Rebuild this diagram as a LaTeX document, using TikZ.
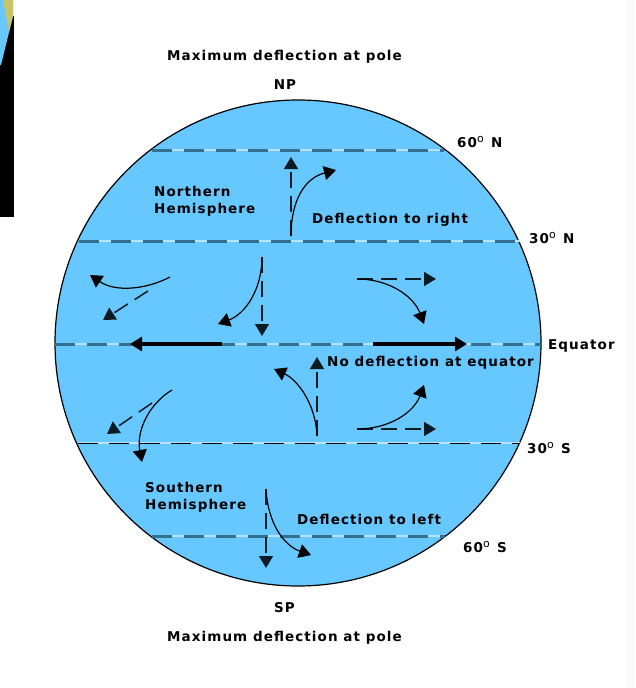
\documentclass[tikz,border=0pt]{standalone}
\usepackage{fontspec}
\setmainfont{DejaVu Sans}
\newfontfamily\lblfont[LetterSpace=8]{DejaVu Sans}
\usetikzlibrary{arrows.meta}
\definecolor{ocean}{HTML}{66C8FF}
\definecolor{latdash}{HTML}{34708F}
\definecolor{latgap}{HTML}{B4E4FF}
\definecolor{thumbland}{HTML}{C8C468}
\newcommand{\degsign}{\raisebox{5pt}{\normalfont\fontsize{11}{11}\selectfont o}\hspace{1.5pt}}
\tikzset{
  x=1pt,y=-1pt,
  lbl/.style={font=\lblfont\bfseries\fontsize{13.5}{17.5}\selectfont,inner sep=0pt,text=black,align=left},
  lat/.style={line width=1.2pt,draw=latgap},
  latd/.style={line width=3pt,draw=latdash,dash pattern=on 20pt off 12pt},
  latthin/.style={line width=1pt,draw=black,dash pattern=on 20pt off 11pt},
  tip/.style={-{Triangle[length=12pt,width=14pt]}},
  curve/.style={tip,line width=1.2pt,draw=black},
  dashline/.style={tip,line width=1.5pt,draw=black!75!latdash,dash pattern=on 16pt off 8pt},
  strong/.style={tip,line width=3.2pt,draw=black}
}
\begin{document}
\begin{tikzpicture}
\useasboundingbox (0,0) rectangle (635,688);
\fill[white] (0,0) rectangle (635,688);
\fill[black!2] (627,0) rectangle (635,688);
% thumbnail sliver
\fill[black] (0,16) rectangle (13.5,216.5);
\fill[ocean] (0,0) -- (13,0) -- (13,16) -- (1,65) -- (0,65) -- cycle;
\fill[thumbland] (3,0) -- (13,0) -- (13,16) -- (9,32) -- (6,15) -- cycle;
% globe
\node[circle,minimum size=486pt,inner sep=0pt,fill=ocean,draw=black,line width=1.2pt] (globe) at (298,343) {};
% latitude lines
\coordinate (n60a) at (152,150); \coordinate (n60b) at (444,150);
\coordinate (n30a) at (79,241);  \coordinate (n30b) at (520,241);
\coordinate (eqa) at (55,344);   \coordinate (eqb) at (541,344);
\coordinate (s30a) at (78,443);  \coordinate (s30b) at (520,443);
\coordinate (s60a) at (152,536); \coordinate (s60b) at (445,536);
\draw[lat] (n60a)--(n60b); \draw[latd] (n60a)--(n60b);
\draw[lat] (n30a)--(n30b); \draw[latd] (n30a)--(n30b);
\draw[lat] (eqa)--(eqb);   \draw[latd] (eqa)--(eqb);
\draw[lat] (s30a)--(s30b); \draw[latthin] (s30a)--(s30b);
\draw[lat] (s60a)--(s60b); \draw[latd] (s60a)--(s60b);
% coordinates of the arrows
\coordinate (a1) at (291,236); \coordinate (a1u) at (291,157); \coordinate (a1c) at (336,170);
\coordinate (a2) at (262,257); \coordinate (a2d) at (262,336); \coordinate (a2c) at (218,324);
\coordinate (a3) at (170,277); \coordinate (a3c) at (90,275);
\coordinate (a3s) at (148,291); \coordinate (a3e) at (103,320);
\coordinate (a4) at (357,279); \coordinate (a4r) at (436,279); \coordinate (a4c) at (424,324);
\coordinate (e1) at (222,344); \coordinate (e1e) at (130,344);
\coordinate (e2) at (373,344); \coordinate (e2e) at (467,344);
\coordinate (a5) at (317,436); \coordinate (a5u) at (317,357); \coordinate (a5c) at (274,369);
\coordinate (a6) at (172,390); \coordinate (a6c) at (142,462);
\coordinate (a6s) at (152,403); \coordinate (a6e) at (107,434);
\coordinate (a7) at (357,429); \coordinate (a7r) at (436,429); \coordinate (a7c) at (424,385);
\coordinate (a8) at (266,489); \coordinate (a8d) at (266,568); \coordinate (a8c) at (311,555);
% straight arrows
\draw[dashline] (a1)--(a1u);
\draw[dashline] (a2)--(a2d);
\draw[dashline] (a3s)--(a3e);
\draw[dashline] (a4)--(a4r);
\draw[strong] (e1)--(e1e);
\draw[strong] (e2)--(e2e);
\draw[dashline] (a5)--(a5u);
\draw[dashline] (a6s)--(a6e);
\draw[dashline] (a7)--(a7r);
\draw[dashline] (a8)--(a8d);
% curved arrows
\draw[curve] (a1) .. controls (291,200) and (305,178) .. (a1c);
\draw[curve] (a2) .. controls (262,290) and (245,314) .. (a2c);
\draw[curve] (a3) .. controls (145,290) and (115,292) .. (a3c);
\draw[curve] (a4) .. controls (390,279) and (414,297) .. (a4c);
\draw[curve] (a5) .. controls (316,405) and (298,380) .. (a5c);
\draw[curve] (a6) .. controls (150,403) and (136,430) .. (a6c);
\draw[curve] (a7) .. controls (390,429) and (414,412) .. (a7c);
\draw[curve] (a8) .. controls (268,525) and (285,546) .. (a8c);
% labels
\node[lbl] (top) at (284.5,56.5) {Maximum deflection at pole};
\node[lbl] (np) at (285,85) {NP};
\node[lbl,anchor=west] (n60) at (457,142) {60\degsign\ N};
\node[lbl,anchor=west] (nh) at (154,201.5) {Northern\\Hemisphere};
\node[lbl,anchor=west] (dr) at (312,220) {Deflection to right};
\node[lbl,anchor=west] (n30) at (529,238) {30\degsign\ N};
\node[lbl,anchor=west] (eq) at (548,346) {Equator};
\node[lbl,anchor=west] (nd) at (327,362.5) {No deflection at equator};
\node[lbl,anchor=west] (s30) at (527,448) {30\degsign\ S};
\node[lbl,anchor=west] (sh) at (145,497.5) {Southern\\Hemisphere};
\node[lbl,anchor=west] (dl) at (297,519) {Deflection to left};
\node[lbl,anchor=west] (s60) at (463,547) {60\degsign\ S};
\node[lbl] (sp) at (284.5,608) {SP};
\node[lbl] (bot) at (284.5,637.5) {Maximum deflection at pole};
\end{tikzpicture}
\end{document}
